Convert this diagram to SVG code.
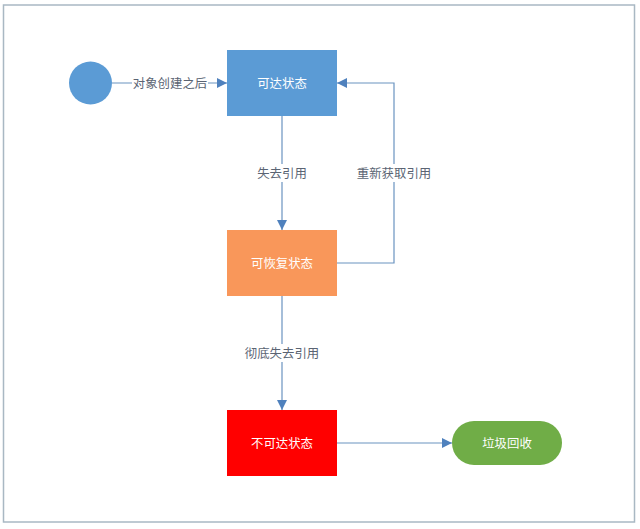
<svg xmlns="http://www.w3.org/2000/svg" width="640" height="529" viewBox="0 0 640 529">
<defs>
<marker id="ah" viewBox="0 0 10 10" refX="10" refY="5" markerWidth="10" markerHeight="10" markerUnits="userSpaceOnUse" orient="auto">
<path d="M0,0 L10,5 L0,10 z" fill="#4F81BD"/>
</marker>
<style>
.lbl{font-family:"Noto Sans CJK SC","Noto Sans",sans-serif;font-size:12.4px;fill:#5A6473;text-anchor:middle;dominant-baseline:central}
.ntx{font-family:"Noto Sans CJK SC","Noto Sans",sans-serif;font-size:12.4px;fill:#FFFFFF;text-anchor:middle;dominant-baseline:central}
.ln{fill:none;stroke:#6A93C0;stroke-width:1.2}
</style>
</defs>
<rect x="0" y="0" width="640" height="529" fill="#FFFFFF"/>
<rect x="3.5" y="5" width="631" height="517" fill="none" stroke="#A9B8C3" stroke-width="1.5"/>
<g id="connectors">
<path class="ln" d="M112,83 H227" marker-end="url(#ah)"/>
<rect x="132" y="74" width="76" height="18" fill="#FFFFFF"/>
<text class="lbl" x="170" y="83">对象创建之后</text>
<path class="ln" d="M282,116 V230" marker-end="url(#ah)"/>
<rect x="252" y="164" width="60" height="18" fill="#FFFFFF"/>
<text class="lbl" x="282" y="173">失去引用</text>
<path class="ln" d="M337,263 H394 V83 H337" marker-end="url(#ah)"/>
<rect x="356" y="164" width="76" height="18" fill="#FFFFFF"/>
<text class="lbl" x="394" y="173">重新获取引用</text>
<path class="ln" d="M282,296 V410" marker-end="url(#ah)"/>
<rect x="244" y="344" width="76" height="18" fill="#FFFFFF"/>
<text class="lbl" x="282" y="353">彻底失去引用</text>
<path class="ln" d="M337,443 H452" marker-end="url(#ah)"/>
</g>
<g id="start">
<circle cx="90.5" cy="83" r="21.5" fill="#5B9BD5"/>
</g>
<g id="reachable">
<rect x="227" y="50" width="110" height="66" fill="#5B9BD5"/>
<text class="ntx" x="282" y="83">可达状态</text>
</g>
<g id="recoverable">
<rect x="227" y="230" width="110" height="66" fill="#F9975A"/>
<text class="ntx" x="282" y="263">可恢复状态</text>
</g>
<g id="unreachable">
<rect x="227" y="410" width="110" height="66" fill="#FF0000"/>
<text class="ntx" x="282" y="443">不可达状态</text>
</g>
<g id="gc">
<rect x="452" y="421" width="110" height="44" rx="22" ry="22" fill="#70AD47"/>
<text class="ntx" x="507" y="443">垃圾回收</text>
</g>
</svg>
